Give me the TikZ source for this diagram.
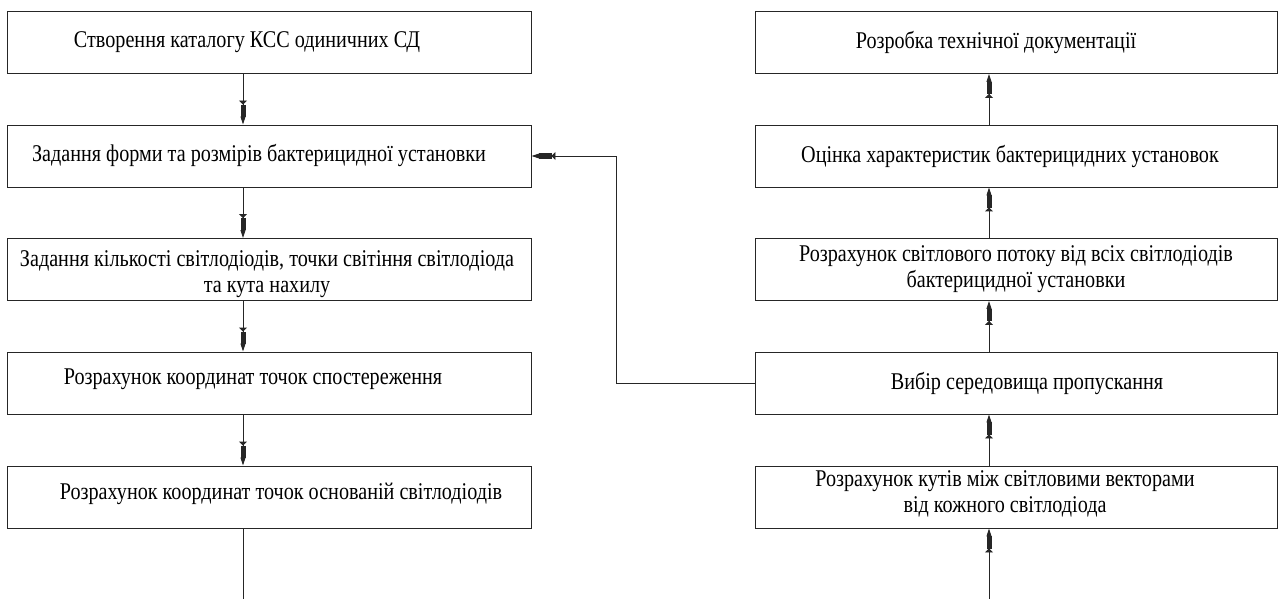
\documentclass[tikz,border=0pt]{standalone}
\usepackage{fontspec}
\setmainfont{Liberation Serif}[FakeStretch=0.84]
\usetikzlibrary{arrows.meta}

\begin{document}
\begin{tikzpicture}[x=1pt, y=-1pt,
    box/.style={draw=black!85, line width=0.9pt, minimum width=524pt,
        minimum height=62pt, inner sep=0pt},
    rbox/.style={box, minimum width=522pt},
    txt/.style={inner sep=0pt, align=center,
        font=\fontsize{24}{26}\selectfont},
    flow/.style={draw=black!85, line width=0.9pt,
        -{Triangle[length=4pt, width=8pt, sep=0pt]
          Rectangle[length=12pt, width=5pt, sep=0pt]
          Triangle[length=8pt, width=5pt]}}]

    \useasboundingbox (0,0) rectangle (1278,599);

    % 1. Ліва колонка
    \node[box] (kat)   at (269, 42.5)  {};
    \node[box] (form)  at (269, 156)   {};
    \node[box] (kil)   at (269, 269.5) {};
    \node[box] (spost) at (269, 383)   {};
    \node[box] (osn)   at (269, 497)   {};

    \node[txt] (katT)   at (247, 42)   {Створення каталогу КСС одиничних СД};
    \node[txt] (formT)  at (259, 156)  {Задання форми та розмірів бактерицидної установки};
    \node[txt] (kilT)   at (267, 274)  {Задання кількості світлодіодів, точки світіння світлодіода\\та кута нахилу};
    \node[txt] (spostT) at (253, 379)  {Розрахунок координат точок спостереження};
    \node[txt] (osnT)   at (281, 494)  {Розрахунок координат точок основаній світлодіодів};

    % 2. Права колонка
    \node[rbox] (doc)   at (1016, 42.5)  {};
    \node[rbox] (ocin)  at (1016, 156)   {};
    \node[rbox] (potik) at (1016, 269.5) {};
    \node[rbox] (ser)   at (1016, 383)   {};
    \node[rbox] (kut)   at (1016, 497)   {};

    \node[txt] (docT)   at (996, 43)   {Розробка технічної документації};
    \node[txt] (ocinT)  at (1010, 157) {Оцінка характеристик бактерицидних установок};
    \node[txt] (potikT) at (1016, 269) {Розрахунок світлового потоку від всіх світлодіодів\\бактерицидної установки};
    \node[txt] (serT)   at (1027, 383) {Вибір середовища пропускання};
    \node[txt] (kutT)   at (1005, 494) {Розрахунок кутів між світловими векторами\\від кожного світлодіода};

    % 3. Стрілки лівої колонки
    \draw[flow] ([xshift=-26pt]kat.south) -- ([xshift=-26pt]form.north);
    \draw[flow] ([xshift=-26pt]form.south) -- ([xshift=-26pt]kil.north);
    \draw[flow] ([xshift=-26pt]kil.south) -- ([xshift=-26pt]spost.north);
    \draw[flow] ([xshift=-26pt]spost.south) -- ([xshift=-26pt]osn.north);
    \coordinate (lend) at (243, 599);
    \draw[draw=black!85, line width=0.9pt] ([xshift=-26pt]osn.south) -- (lend);

    % 4. Стрілки правої колонки
    \coordinate (rstart) at (989, 599);
    \draw[flow] (rstart) -- ([xshift=-27pt]kut.south);
    \draw[flow] ([xshift=-27pt]kut.north) -- ([xshift=-27pt]ser.south);
    \draw[flow] ([xshift=-27pt]ser.north) -- ([xshift=-27pt]potik.south);
    \draw[flow] ([xshift=-27pt]potik.north) -- ([xshift=-27pt]ocin.south);
    \draw[flow] ([xshift=-27pt]ocin.north) -- ([xshift=-27pt]doc.south);

    % 5. Зворотний зв'язок
    \coordinate (zv) at (616, 383);
    \draw[flow] (ser.west) -- (zv) |- (form.east);

\end{tikzpicture}
\end{document}
